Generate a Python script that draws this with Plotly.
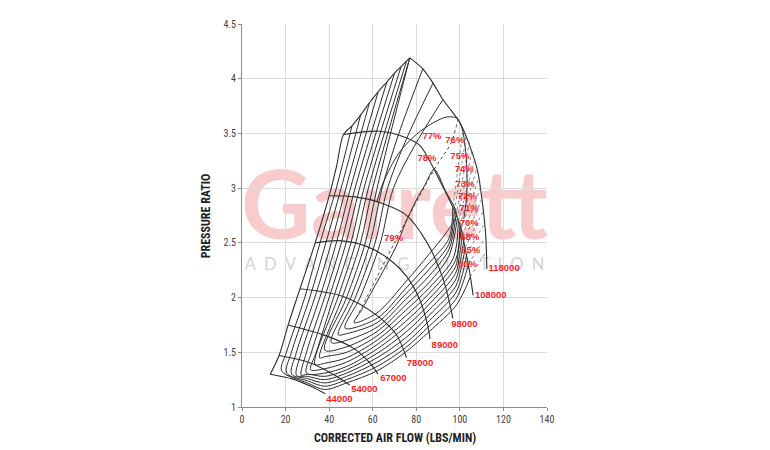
import plotly.graph_objects as go

# ---------------- axis ticks ----------------
x_tick_vals = [0, 20, 40, 60, 80, 100, 120, 140]
y_tick_vals = [1, 1.5, 2, 2.5, 3, 3.5, 4, 4.5]
y_tick_text = ["1", "1.5", "2", "2.5", "3", "3.5", "4", "4.5"]

# ---------------- surge line + upper boundary ----------------
surge_x = [13.0, 17.0, 21.2, 26.6, 33.6, 40.0, 43.4, 46.6, 50.5, 54.5, 58.5, 62.5, 66.5, 70.0, 73.0, 75.5, 77.0]
surge_y = [1.30, 1.47, 1.75, 2.08, 2.50, 2.93, 3.20, 3.49, 3.57, 3.67, 3.78, 3.88, 3.97, 4.05, 4.11, 4.16, 4.19]

# ---------------- speed lines ----------------
speed_labels = ["44000", "54000", "67000", "78000", "89000", "98000", "108000", "118000"]
speed_44000_x = [13.0, 23.4, 32.6, 38.3]
speed_44000_y = [1.30, 1.255, 1.18, 1.12]
speed_54000_x = [17.0, 31.1, 41.8, 49.5]
speed_54000_y = [1.47, 1.405, 1.30, 1.20]
speed_67000_x = [21.2, 38.7, 50.9, 58.6, 62.4]
speed_67000_y = [1.75, 1.65, 1.54, 1.405, 1.30]
speed_78000_x = [26.6, 46.4, 61.7, 70.9, 75.5]
speed_78000_y = [2.08, 2.01, 1.84, 1.66, 1.45]
speed_89000_x = [33.6, 44.7, 56.9, 67.6, 75.3, 81.4, 85.2, 86.3]
speed_89000_y = [2.50, 2.52, 2.47, 2.35, 2.20, 1.99, 1.75, 1.62]
speed_98000_x = [40.0, 52.0, 63.0, 75.0, 85.0, 92.5, 96.8]
speed_98000_y = [2.93, 2.92, 2.87, 2.76, 2.50, 2.16, 1.81]
speed_108000_x = [46.6, 63.0, 75.4, 81.6, 86.1, 91.0, 95.5, 98.5, 100.7, 102.2, 104.5, 106.1]
speed_108000_y = [3.49, 3.52, 3.46, 3.39, 3.25, 3.06, 2.88, 2.75, 2.62, 2.47, 2.23, 2.02]
speed_118000_x = [77.0, 83.0, 87.7, 92.2, 96.0, 99.7, 104.3, 108.1, 110.4, 111.9, 112.4]
speed_118000_y = [4.19, 4.09, 3.96, 3.81, 3.71, 3.61, 3.40, 3.16, 2.86, 2.56, 2.26]
speed_lines_x = [speed_44000_x, speed_54000_x, speed_67000_x, speed_78000_x,
                 speed_89000_x, speed_98000_x, speed_108000_x, speed_118000_x]
speed_lines_y = [speed_44000_y, speed_54000_y, speed_67000_y, speed_78000_y,
                 speed_89000_y, speed_98000_y, speed_108000_y, speed_118000_y]
speed_label_x = [44.7, 56.2, 69.5, 81.7, 93.1, 102.1, 114.2, 120.3]
speed_label_y = [1.066, 1.156, 1.255, 1.40, 1.56, 1.75, 2.015, 2.26]

# ---------------- efficiency contours (solid part, ends on the 108000 line) ----------------
eff_60_x = [50.5, 43.3, 35.8, 28.8, 20.4, 18.2, 30.0, 38.0, 48.0, 62.0, 75.0, 86.0, 98.0, 102.0, 104.8]
eff_60_y = [3.57, 3.00, 2.50, 2.00, 1.50, 1.33, 1.22, 1.16, 1.22, 1.33, 1.50, 1.69, 1.92, 2.06, 2.19]
eff_65_x = [54.5, 45.5, 38.5, 31.1, 22.7, 20.5, 30.0, 38.0, 48.0, 62.0, 75.0, 86.0, 98.0, 101.5, 104.0]
eff_65_y = [3.67, 3.00, 2.50, 2.00, 1.50, 1.31, 1.24, 1.19, 1.25, 1.37, 1.54, 1.74, 1.98, 2.14, 2.31]
eff_68_x = [58.5, 47.7, 41.0, 33.4, 25.0, 22.8, 30.0, 38.0, 48.0, 62.0, 75.0, 86.0, 98.0, 101.0, 103.2]
eff_68_y = [3.78, 3.00, 2.50, 2.00, 1.50, 1.30, 1.26, 1.22, 1.28, 1.41, 1.58, 1.79, 2.04, 2.20, 2.40]
eff_70_x = [62.5, 49.8, 43.3, 35.7, 27.3, 25.0, 30.0, 38.0, 48.0, 62.0, 75.0, 86.0, 98.0, 100.5, 102.5]
eff_70_y = [3.88, 3.00, 2.50, 2.00, 1.50, 1.29, 1.28, 1.25, 1.31, 1.45, 1.63, 1.84, 2.10, 2.26, 2.46]
eff_71_x = [66.5, 51.9, 45.6, 37.9, 29.6, 27.2, 30.0, 38.0, 48.0, 62.0, 75.0, 86.0, 98.0, 100.0, 101.8]
eff_71_y = [3.97, 3.00, 2.50, 2.00, 1.50, 1.29, 1.30, 1.28, 1.34, 1.49, 1.68, 1.89, 2.16, 2.31, 2.52]
eff_72_x = [70.0, 54.0, 47.8, 40.0, 31.9, 29.6, 38.0, 48.0, 62.0, 75.0, 86.0, 98.0, 99.6, 101.2]
eff_72_y = [4.05, 3.00, 2.50, 2.00, 1.50, 1.31, 1.31, 1.37, 1.53, 1.73, 1.94, 2.22, 2.36, 2.57]
eff_73_x = [73.0, 56.0, 50.0, 42.0, 34.1, 31.5, 38.0, 48.0, 62.0, 75.0, 86.0, 98.0, 99.2, 100.6]
eff_73_y = [4.11, 3.00, 2.50, 2.00, 1.50, 1.34, 1.35, 1.41, 1.57, 1.78, 1.99, 2.28, 2.41, 2.63]
eff_74_x = [75.5, 58.0, 52.2, 44.0, 33.5, 38.0, 48.0, 62.0, 75.0, 86.0, 98.0, 100.0]
eff_74_y = [4.16, 3.00, 2.50, 2.00, 1.39, 1.40, 1.45, 1.61, 1.83, 2.04, 2.34, 2.66]
eff_75_x = [77.0, 60.0, 54.4, 46.0, 35.6, 38.0, 48.0, 62.0, 75.0, 86.0, 97.0, 99.3]
eff_75_y = [4.19, 3.00, 2.50, 2.00, 1.45, 1.46, 1.50, 1.65, 1.88, 2.09, 2.36, 2.70]
eff_76_x = [77.0, 62.0, 56.6, 48.0, 38.0, 48.0, 62.0, 75.0, 86.0, 95.0, 98.8]
eff_76_y = [4.19, 3.00, 2.50, 2.00, 1.52, 1.55, 1.69, 1.93, 2.14, 2.38, 2.72]
eff_77_x = [83.0, 72.0, 64.3, 58.8, 50.0, 41.0, 48.0, 62.0, 75.0, 86.0, 95.0, 98.2]
eff_77_y = [4.09, 3.50, 3.00, 2.50, 2.00, 1.59, 1.61, 1.73, 1.98, 2.20, 2.44, 2.75]
eff_78_x = [87.7, 75.5, 66.8, 61.1, 52.0, 44.2, 48.0, 62.0, 75.0, 86.0, 95.0, 97.5]
eff_78_y = [3.96, 3.45, 3.00, 2.50, 2.00, 1.66, 1.67, 1.77, 2.03, 2.26, 2.49, 2.79]
eff_79o_x = [92.2, 79.0, 69.5, 63.5, 54.2, 47.3, 62.0, 75.0, 86.0, 95.0, 96.8]
eff_79o_y = [3.81, 3.38, 3.00, 2.50, 2.00, 1.72, 1.81, 2.08, 2.32, 2.54, 2.83]
eff_lines_x = [eff_60_x, eff_65_x, eff_68_x, eff_70_x, eff_71_x, eff_72_x, eff_73_x,
               eff_74_x, eff_75_x, eff_76_x, eff_77_x, eff_78_x, eff_79o_x]
eff_lines_y = [eff_60_y, eff_65_y, eff_68_y, eff_70_y, eff_71_y, eff_72_y, eff_73_y,
               eff_74_y, eff_75_y, eff_76_y, eff_77_y, eff_78_y, eff_79o_y]

# dotted continuation of each contour up to the 118000 line
eff_dot_end_x = [112.1, 111.8, 111.4, 110.9, 110.3, 109.6, 108.8, 107.9, 106.9, 105.7, 104.4, 103.0, 101.5]
eff_dot_end_y = [2.42, 2.55, 2.68, 2.80, 2.91, 3.01, 3.10, 3.19, 3.27, 3.35, 3.42, 3.49, 3.54]

# closed 79% island
island_79_x = [51.5, 62.0, 75.0, 86.0, 94.0, 98.4, 93.5, 88.2, 84.0, 80.0, 75.0, 70.8, 65.0, 60.0, 55.0, 51.5]
island_79_y = [1.77, 1.86, 2.14, 2.40, 2.60, 2.76, 2.97, 3.17, 3.03, 2.89, 2.68, 2.47, 2.25, 2.07, 1.89, 1.77]

# upper arc (77% region) running down the right side
arc_77_x = [62.0, 64.8, 72.0, 80.0, 88.0, 94.0, 98.4, 100.8, 102.6, 103.3, 103.0, 101.8]
arc_77_y = [2.88, 3.05, 3.32, 3.49, 3.60, 3.65, 3.64, 3.56, 3.35, 3.10, 2.90, 2.72]

# dotted ridge line
ridge_x = [52.4, 70.0, 88.2, 96.1, 99.0]
ridge_y = [1.81, 2.50, 3.17, 3.42, 3.62]

# efficiency labels
eff_label_text = ["79%", "78%", "77%", "76%", "75%", "74%", "73%", "72%", "71%", "70%", "68%", "65%", "60%"]
eff_label_x = [69.6, 84.9, 87.2, 97.7, 100.0, 102.0, 102.4, 103.5, 104.3, 104.3, 104.6, 105.0, 103.5]
eff_label_y = [2.54, 3.27, 3.47, 3.43, 3.29, 3.17, 3.03, 2.92, 2.81, 2.68, 2.55, 2.43, 2.30]

LINE = "#2e2e2e"
RED = "#ff1e1e"

fig = go.Figure()

def add_line(xs, ys, dash="solid", width=1.0, color=LINE, shape="spline"):
    fig.add_trace(go.Scatter(x=xs, y=ys, mode="lines",
                             line=dict(color=color, width=width, dash=dash, shape=shape, smoothing=0.9),
                             hoverinfo="skip", showlegend=False))

add_line(surge_x, surge_y, width=1.1)
for xs, ys in zip(speed_lines_x, speed_lines_y):
    add_line(xs, ys, width=1.1)
for xs, ys, ex, ey in zip(eff_lines_x, eff_lines_y, eff_dot_end_x, eff_dot_end_y):
    add_line(xs, ys)
    add_line([xs[-1], ex], [ys[-1], ey], dash="dot", width=0.8, color="#6a6a6a", shape="linear")
add_line(island_79_x, island_79_y)
add_line(arc_77_x, arc_77_y)
add_line(ridge_x, ridge_y, dash="dot", width=0.9)

LBLFONT = dict(family="Liberation Sans, Arial, sans-serif", size=9.5, color=RED, weight="bold")
fig.add_trace(go.Scatter(x=speed_label_x, y=speed_label_y, mode="text", text=speed_labels,
                         textfont=LBLFONT, hoverinfo="skip", showlegend=False))
fig.add_trace(go.Scatter(x=eff_label_x, y=eff_label_y, mode="text", text=eff_label_text,
                         textfont=LBLFONT, hoverinfo="skip", showlegend=False))

COND = "Liberation Sans Narrow, Arial Narrow, Roboto Condensed, Liberation Sans, sans-serif"

fig.update_layout(
    width=770, height=450,
    margin=dict(l=234, r=231, t=10, b=51),
    paper_bgcolor="white", plot_bgcolor="white",
    xaxis=dict(range=[0, 140], tickvals=x_tick_vals, showgrid=True, gridcolor="#dcdcdc", gridwidth=1,
               zeroline=False, showline=True, linecolor="#8c8c8c", linewidth=1,
               ticks="outside", ticklen=3, tickcolor="#8c8c8c",
               tickfont=dict(family=COND, size=10, color="#444444")),
    yaxis=dict(range=[1, 4.5], tickvals=y_tick_vals, ticktext=y_tick_text, showgrid=True,
               gridcolor="#dcdcdc", gridwidth=1, zeroline=False, showline=True, linecolor="#8c8c8c",
               linewidth=1, ticks="outside", ticklen=3, tickcolor="#8c8c8c",
               tickfont=dict(family=COND, size=10, color="#444444")),
    shapes=[
        dict(type="rect", xref="paper", yref="paper", x0=0.0, x1=1.0, y0=0.44, y1=0.64,
             line=dict(width=0), fillcolor="rgba(0,0,0,0)", layer="below",
             label=dict(text="Garrett", font=dict(family="Lato, Open Sans, sans-serif", size=96,
                                                  color="#f8cccc", weight="bold"),
                        textposition="middle center")),
        dict(type="rect", xref="paper", yref="paper", x0=0.0, x1=1.0, y0=0.34, y1=0.41,
             line=dict(width=0), fillcolor="rgba(0,0,0,0)", layer="below",
             label=dict(text="A\u2002D\u2002V\u2002A\u2002N\u2002C\u2002I\u2002N\u2002G\u2002\u2002\u2002M\u2002O\u2002T\u2002I\u2002O\u2002N",
                        font=dict(family="Lato, Open Sans, sans-serif", size=16.5, color="#d4d4d4"),
                        textposition="middle center")),
    ],
    annotations=[
        dict(text="<b>CORRECTED AIR FLOW (LBS/MIN)</b>", xref="paper", yref="paper", x=0.502, y=-0.08,
             xanchor="center", yanchor="middle",
             showarrow=False, font=dict(family=COND, size=12, color="#222222")),
        dict(text="<b>PRESSURE RATIO</b>", xref="paper", yref="paper", x=-0.118, y=0.498,
             xanchor="center", yanchor="middle",
             textangle=-90, showarrow=False, font=dict(family=COND, size=12, color="#222222")),
    ],
)

fig.write_html("out.html")
